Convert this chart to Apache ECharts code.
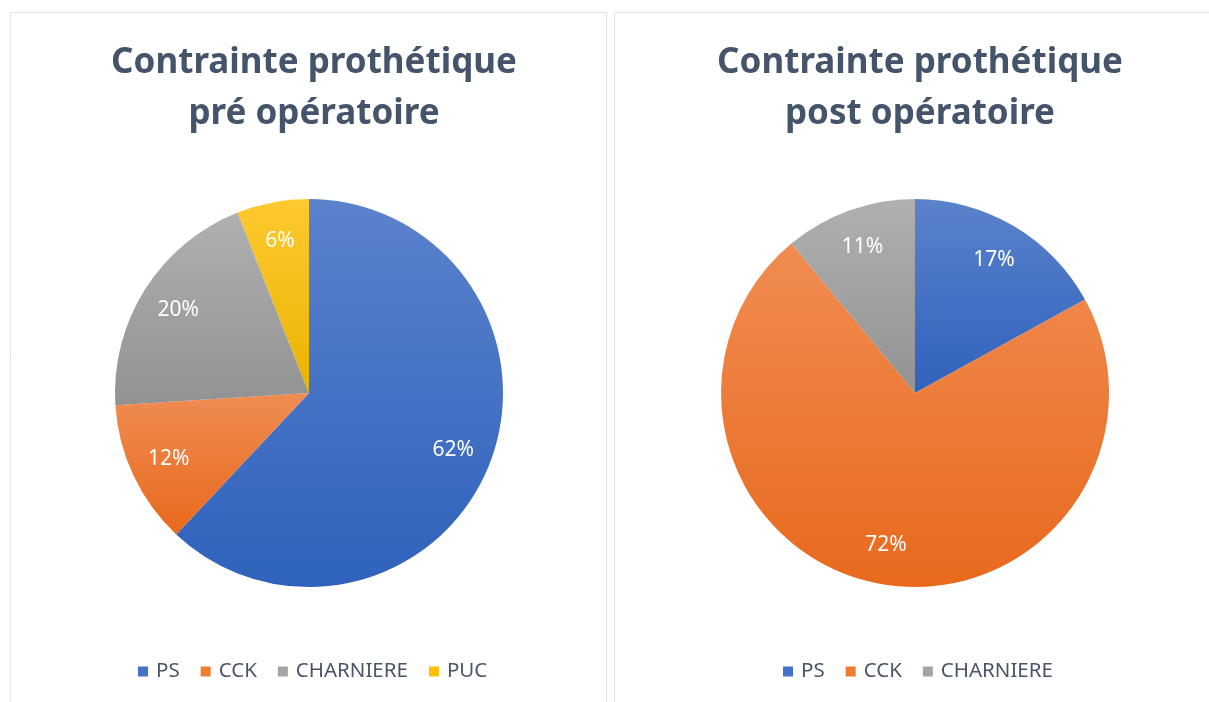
<!DOCTYPE html>
<html>
<head>
<meta charset="utf-8">
<script src="https://cdn.jsdelivr.net/npm/echarts@6/dist/echarts.min.js"></script>
<style>
  html, body { margin: 0; padding: 0; background: #ffffff; }
  #main { width: 1209px; height: 702px; }
</style>
</head>
<body>
<div id="main"></div>
<script>
// data
var preCategories = ['PS', 'CCK', 'CHARNIERE', 'PUC'];
var preValues = [62, 12, 20, 6];
var postCategories = ['PS', 'CCK', 'CHARNIERE'];
var postValues = [17, 72, 11];
var titles = ['Contrainte prothétique\npré opératoire', 'Contrainte prothétique\npost opératoire'];

var chart = echarts.init(document.getElementById('main'));

// slice colours (top / bottom of vertical gradient)
var sliceColors = {
  'PS': ['#5b82cc', '#2f62bc'],
  'CCK': ['#f08c52', '#e8691c'],
  'CHARNIERE': ['#b0b0b0', '#929292'],
  'PUC': ['#ffc930', '#e9b300']
};
var legendColors = {
  'PS': '#4472c4', 'CCK': '#ed7d31', 'CHARNIERE': '#a5a5a5', 'PUC': '#ffc000'
};

function grad(name) {
  return new echarts.graphic.LinearGradient(0, 0, 0, 1, [
    { offset: 0, color: sliceColors[name][0] },
    { offset: 1, color: sliceColors[name][1] }
  ]);
}

function buildData(cats, vals) {
  return cats.map(function (c, i) {
    return { name: c, value: vals[i], itemStyle: { color: grad(c) } };
  });
}

var centers = [[309, 393], [915, 393]];
var R = 194;

// push inside labels out to ~0.78 of the radius
function pushOut(idx) {
  return function (p) {
    var c = centers[idx];
    var lx = p.labelRect.x + p.labelRect.width / 2;
    var ly = p.labelRect.y + p.labelRect.height / 2;
    return { x: c[0] + (lx - c[0]) * 1.55, y: c[1] + (ly - c[1]) * 1.55 };
  };
}

function pieSeries(idx, cats, vals) {
  return {
    type: 'pie',
    center: centers[idx],
    radius: [0, R],
    startAngle: 90,
    clockwise: true,
    avoidLabelOverlap: false,
    silent: true,
    animation: false,
    itemStyle: { borderWidth: 0 },
    label: {
      show: true,
      position: 'inside',
      formatter: '{c}%',
      color: '#ffffff',
      fontSize: 21,
      fontFamily: 'Noto Sans'
    },
    labelLine: { show: false },
    labelLayout: pushOut(idx),
    data: buildData(cats, vals)
  };
}

function legendData(cats) {
  return cats.map(function (c) {
    return { name: c, itemStyle: { color: legendColors[c] } };
  });
}

var titleStyle = {
  color: '#44546a',
  fontSize: 35,
  fontWeight: 'bold',
  fontFamily: 'Noto Sans',
  lineHeight: 51
};
var legendText = { color: '#4a5568', fontSize: 20.5, fontFamily: 'Noto Sans', padding: [0, 0, 0, 3] };

var option = {
  backgroundColor: '#ffffff',
  graphic: [
    { type: 'rect', shape: { x: 10.5, y: 12.5, width: 596, height: 700 },
      style: { fill: '#ffffff', stroke: '#e1e4ea', lineWidth: 1 }, z: -10 },
    { type: 'rect', shape: { x: 614.5, y: 12.5, width: 600, height: 700 },
      style: { fill: '#ffffff', stroke: '#e1e4ea', lineWidth: 1 }, z: -10 }
  ],
  title: [
    { text: titles[0], left: 309, top: 33, textAlign: 'center', textStyle: titleStyle },
    { text: titles[1], left: 915, top: 33, textAlign: 'center', textStyle: titleStyle }
  ],
  legend: [
    {
      data: legendData(preCategories),
      left: 133, top: 656,
      itemWidth: 10, itemHeight: 10, itemGap: 21, icon: 'rect',
      textStyle: legendText,
      selectedMode: false
    },
    {
      data: legendData(postCategories),
      left: 778, top: 656,
      itemWidth: 10, itemHeight: 10, itemGap: 21, icon: 'rect',
      textStyle: legendText,
      selectedMode: false
    }
  ],
  series: [
    pieSeries(0, preCategories, preValues),
    pieSeries(1, postCategories, postValues)
  ]
};

chart.setOption(option);
</script>
</body>
</html>
